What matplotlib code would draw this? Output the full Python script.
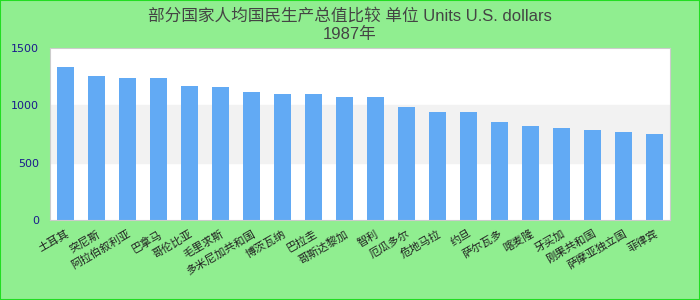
import matplotlib
matplotlib.use("Agg")
import matplotlib.pyplot as plt
from matplotlib.patches import Rectangle

plt.rcParams['font.family'] = ['DejaVu Sans', 'Noto Sans CJK SC']

# data (labels were rendered as missing glyphs,
# so the names below are guesses with the same character counts)
countries = ['土耳其', '突尼斯', '阿拉伯叙利亚', '巴拿马', '哥伦比亚', '毛里求斯',
             '多米尼加共和国', '博茨瓦纳', '巴拉圭', '哥斯达黎加', '智利', '厄瓜多尔',
             '危地马拉', '约旦', '萨尔瓦多', '喀麦隆', '牙买加', '刚果共和国',
             '萨摩亚独立国', '菲律宾']
values = [1330, 1260, 1240, 1240, 1170, 1160, 1120, 1100, 1100, 1075,
          1075, 985, 945, 945, 855, 820, 805, 785, 770, 750]
yticks = [0, 500, 1000, 1500]
title = '部分国家人均国民生产总值比较 单位 Units U.S. dollars\n1987年'

fig = plt.figure(figsize=(7, 3), dpi=100, facecolor='#90ee90')
fig.patches.append(Rectangle((0, 0), 1, 1, transform=fig.transFigure, fill=False,
                             edgecolor='#22dd22', linewidth=1.5))
ax = fig.add_axes([50 / 700, 80 / 300, 620 / 700, 172 / 300])
ax.set_facecolor('white')

# alternating band
ax.axhspan(500, 1000, color='#f2f2f2', zorder=0)

x = range(len(countries))
ax.bar(x, values, width=0.55, color='#62aaf4', zorder=2)

ax.set_xlim(-0.5, len(countries) - 0.5)
ax.set_ylim(0, 1500)
ax.set_yticks(yticks)
ax.tick_params(axis='y', length=0, labelsize=8, labelcolor='#1a1a8c', pad=8)
ax.set_xticks(list(x))
ax.set_xticklabels(countries, rotation=30, ha='right', rotation_mode='anchor',
                   fontsize=8, color='#222222',
                   family=['Noto Sans CJK SC', 'DejaVu Sans'])
ax.tick_params(axis='x', length=0, pad=6)
for s in ax.spines.values():
    s.set_color('#cccccc')

fig.suptitle(title, y=0.975, fontsize=12, color='#444444', linespacing=1.3,
             family=['Liberation Sans', 'Noto Sans CJK SC'])

fig.savefig('out.png', dpi=100, facecolor=fig.get_facecolor())
